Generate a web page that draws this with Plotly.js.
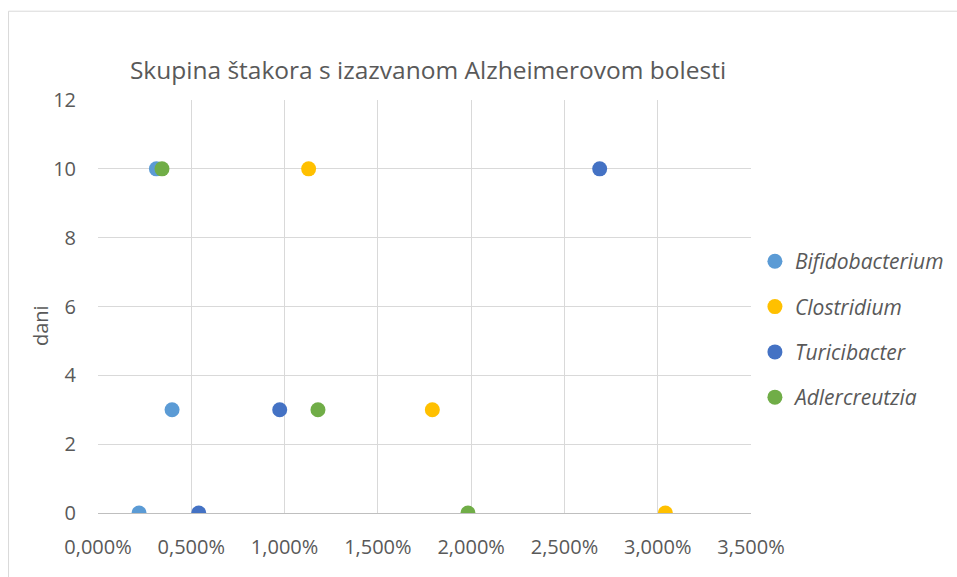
<!DOCTYPE html>
<html>
<head>
<meta charset="utf-8">
<script src="https://cdn.plot.ly/plotly-3.0.1.min.js"></script>
<style>html,body{margin:0;padding:0;background:#fff;}#chart{width:957px;height:577px;}</style>
</head>
<body>
<div id="chart"></div>
<script>
// Data: x = share (fraction, shown as %), y = dani
const seriesNames = ["Bifidobacterium", "Clostridium", "Turicibacter", "Adlercreutzia"];
const seriesColors = ["#5B9BD5", "#FFC000", "#4472C4", "#70AD47"];
const days = [10, 3, 0];
const bifidobacterium = [0.00313, 0.00397, 0.00220];
const clostridium = [0.01129, 0.01792, 0.03041];
const turicibacter = [0.02689, 0.00974, 0.00540];
const adlercreutzia = [0.00343, 0.01179, 0.01983];
const xTickVals = [0, 0.005, 0.01, 0.015, 0.02, 0.025, 0.03, 0.035];
const yTickVals = [0, 2, 4, 6, 8, 10, 12];
const chartTitle = "Skupina štakora s izazvanom Alzheimerovom bolesti";
const yTitle = "dani";

const seriesValues = [bifidobacterium, clostridium, turicibacter, adlercreutzia];
const FONT = "Open Sans, Liberation Sans, sans-serif";
const GREY = "#595959";

const traces = seriesNames.map((name, i) => ({
  type: "scatter",
  mode: "markers",
  name: name,
  x: seriesValues[i],
  y: days,
  legendgroup: "g" + i,
  marker: {color: seriesColors[i], size: 15, line: {width: 0}},
  hoverinfo: "x+y+name"
}));

const layout = {
  width: 957,
  height: 577,
  paper_bgcolor: "#ffffff",
  plot_bgcolor: "#ffffff",
  separators: ", ",
  margin: {l: 98, r: 206, t: 100, b: 64, pad: 0, autoexpand: false},
  title: {
    text: chartTitle,
    font: {family: FONT, size: 24.5, color: GREY},
    x: 428 / 957, xref: "container", xanchor: "center",
    y: 1 - 70 / 577, yref: "container", yanchor: "middle"
  },
  xaxis: {
    range: [0, 0.035],
    tickvals: xTickVals,
    tickformat: ".3%",
    showgrid: true, gridcolor: "#d9d9d9", gridwidth: 1,
    zeroline: false,
    showline: true, linecolor: "#bfbfbf", linewidth: 1,
    ticks: "outside", ticklen: 16, tickcolor: "rgba(0,0,0,0)",
    tickfont: {family: FONT, size: 20, color: GREY},
    automargin: false,
    fixedrange: true
  },
  yaxis: {
    range: [0, 12],
    tickvals: yTickVals,
    showgrid: true, gridcolor: "#d9d9d9", gridwidth: 1,
    zeroline: false,
    showline: false,
    ticks: "outside", ticklen: 17, tickcolor: "rgba(0,0,0,0)",
    tickfont: {family: FONT, size: 20, color: GREY},
    automargin: false,
    fixedrange: true
  },
  annotations: [
    {text: yTitle, xref: "paper", yref: "paper",
     x: (40 - 98) / 653, y: (513 - 326) / 413, xanchor: "center", yanchor: "middle",
     textangle: -90, showarrow: false,
     font: {family: FONT, size: 20, color: GREY}}
  ],
  showlegend: true,
  legend: {
    x: 1.006, xanchor: "left", xref: "paper",
    y: 0.444, yanchor: "middle",
    traceorder: "grouped",
    tracegroupgap: 15,
    itemwidth: 30,
    font: {family: FONT, size: 21, color: GREY, style: "italic"},
    bgcolor: "rgba(0,0,0,0)"
  },
  shapes: [
    {type: "line", xref: "paper", yref: "paper", x0: -0.137, x1: 1.4, y0: 1.215, y1: 1.215,
     line: {color: "#d9d9d9", width: 1}},
    {type: "line", xref: "paper", yref: "paper", x0: -0.137, x1: -0.137, y0: -0.2, y1: 1.215,
     line: {color: "#d9d9d9", width: 1}}
  ]
};

Plotly.newPlot("chart", traces, layout, {displayModeBar: false, staticPlot: true});
</script>
</body>
</html>
